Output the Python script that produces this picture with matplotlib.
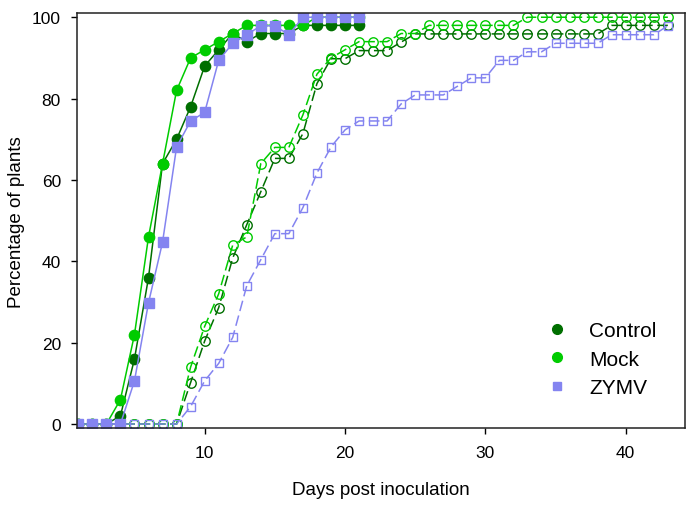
import matplotlib
matplotlib.use('Agg')
import matplotlib.pyplot as plt
from matplotlib.lines import Line2D

plt.rcParams['font.family'] = ['Liberation Sans', 'DejaVu Sans']

# days post inoculation
days_early = list(range(1, 22))
days_late = list(range(1, 44))

# filled markers, solid lines (days 1-21)
control_early = [0, 0, 0, 2, 16, 36, 64, 70, 78, 88, 92, 96, 94, 96, 96, 96, 98, 98, 98, 98, 98]
mock_early = [0, 0, 0, 6, 22, 46, 64, 82, 90, 92, 94, 96, 98, 98, 98, 98, 98, 100, 100, 100, 100]
zymv_early = [0, 0, 0, 0, 10.6, 29.8, 44.7, 68.1, 74.5, 76.6, 89.4, 93.6, 95.7, 97.9, 97.9, 95.7,
              100, 100, 100, 100, 100]

# open markers, dashed lines (days 1-43)
control_late = [0, 0, 0, 0, 0, 0, 0, 0, 10.2, 20.4, 28.6, 40.8, 49.0, 57.1, 65.3, 65.3, 71.4, 83.7,
                89.8, 89.8, 91.8, 91.8, 91.8, 93.9, 95.9, 95.9, 95.9, 95.9, 95.9, 95.9, 95.9, 95.9,
                95.9, 95.9, 95.9, 95.9, 95.9, 95.9, 98.0, 98.0, 98.0, 98.0, 98.0]
mock_late = [0, 0, 0, 0, 0, 0, 0, 0, 14, 24, 32, 44, 46, 64, 68, 68, 76, 86, 90, 92, 94, 94, 94,
             96, 96, 98, 98, 98, 98, 98, 98, 98, 100, 100, 100, 100, 100, 100, 100, 100, 100, 100, 100]
zymv_late = [0, 0, 0, 0, 0, 0, 0, 0, 4.3, 10.6, 14.9, 21.3, 34.0, 40.4, 46.8, 46.8, 53.2, 61.7,
             68.1, 72.3, 74.5, 74.5, 74.5, 78.7, 80.9, 80.9, 80.9, 83.0, 85.1, 85.1, 89.4, 89.4,
             91.5, 91.5, 93.6, 93.6, 93.6, 93.6, 95.7, 95.7, 95.7, 95.7, 97.9]

labels = ['Control', 'Mock', 'ZYMV']
colors = ['#006f00', '#00cc00', '#8484f0']
markers = ['o', 'o', 's']


def plot_curves(ax):
    late = [control_late, mock_late, zymv_late]
    early = [control_early, mock_early, zymv_early]
    for vals, c, m in zip(late, colors, markers):
        ms = 6.8 if m == 'o' else 6.2
        ax.plot(days_late, vals, color=c, lw=1.1, dashes=(7, 3), marker=m, ms=ms,
                mfc='none', mec=c, mew=1.0)
    for vals, c, m in zip(early, colors, markers):
        ms = 7.4 if m == 'o' else 6.6
        ax.plot(days_early, vals, color=c, lw=1.1, marker=m, ms=ms, mfc=c, mec=c)


fig = plt.figure(figsize=(6.93, 5.06), dpi=100)
ax = fig.add_axes([0.111, 0.152, 0.877, 0.820])
plot_curves(ax)

ax.set_xlim(0.9, 44.2)
ax.set_ylim(-1, 101)
ax.set_xticks([10, 20, 30, 40])
ax.set_yticks([0, 20, 40, 60, 80, 100])
ax.tick_params(direction='out', length=4.5, width=1, labelsize=12.5, colors='black')
ax.tick_params(axis='y', pad=7)
ax.tick_params(axis='x', pad=8)
ax.tick_params(top=False, right=False)
for s in ax.spines.values():
    s.set_linewidth(1.1)
    s.set_color('#222222')

ax.set_xlabel('Days post inoculation', fontsize=13.5, labelpad=15)
ax.set_ylabel('Percentage of plants', fontsize=13.5, labelpad=5)

handles = [Line2D([], [], ls='none', marker=m, color=c, ms=7 if m == 'o' else 6.4)
           for c, m in zip(colors, markers)]
ax.legend(handles, labels, loc='lower right', bbox_to_anchor=(0.985, 0.03), frameon=False,
          fontsize=15, handletextpad=0.8, labelspacing=0.45, handlelength=1.5)

fig.savefig('out.png', dpi=100)
